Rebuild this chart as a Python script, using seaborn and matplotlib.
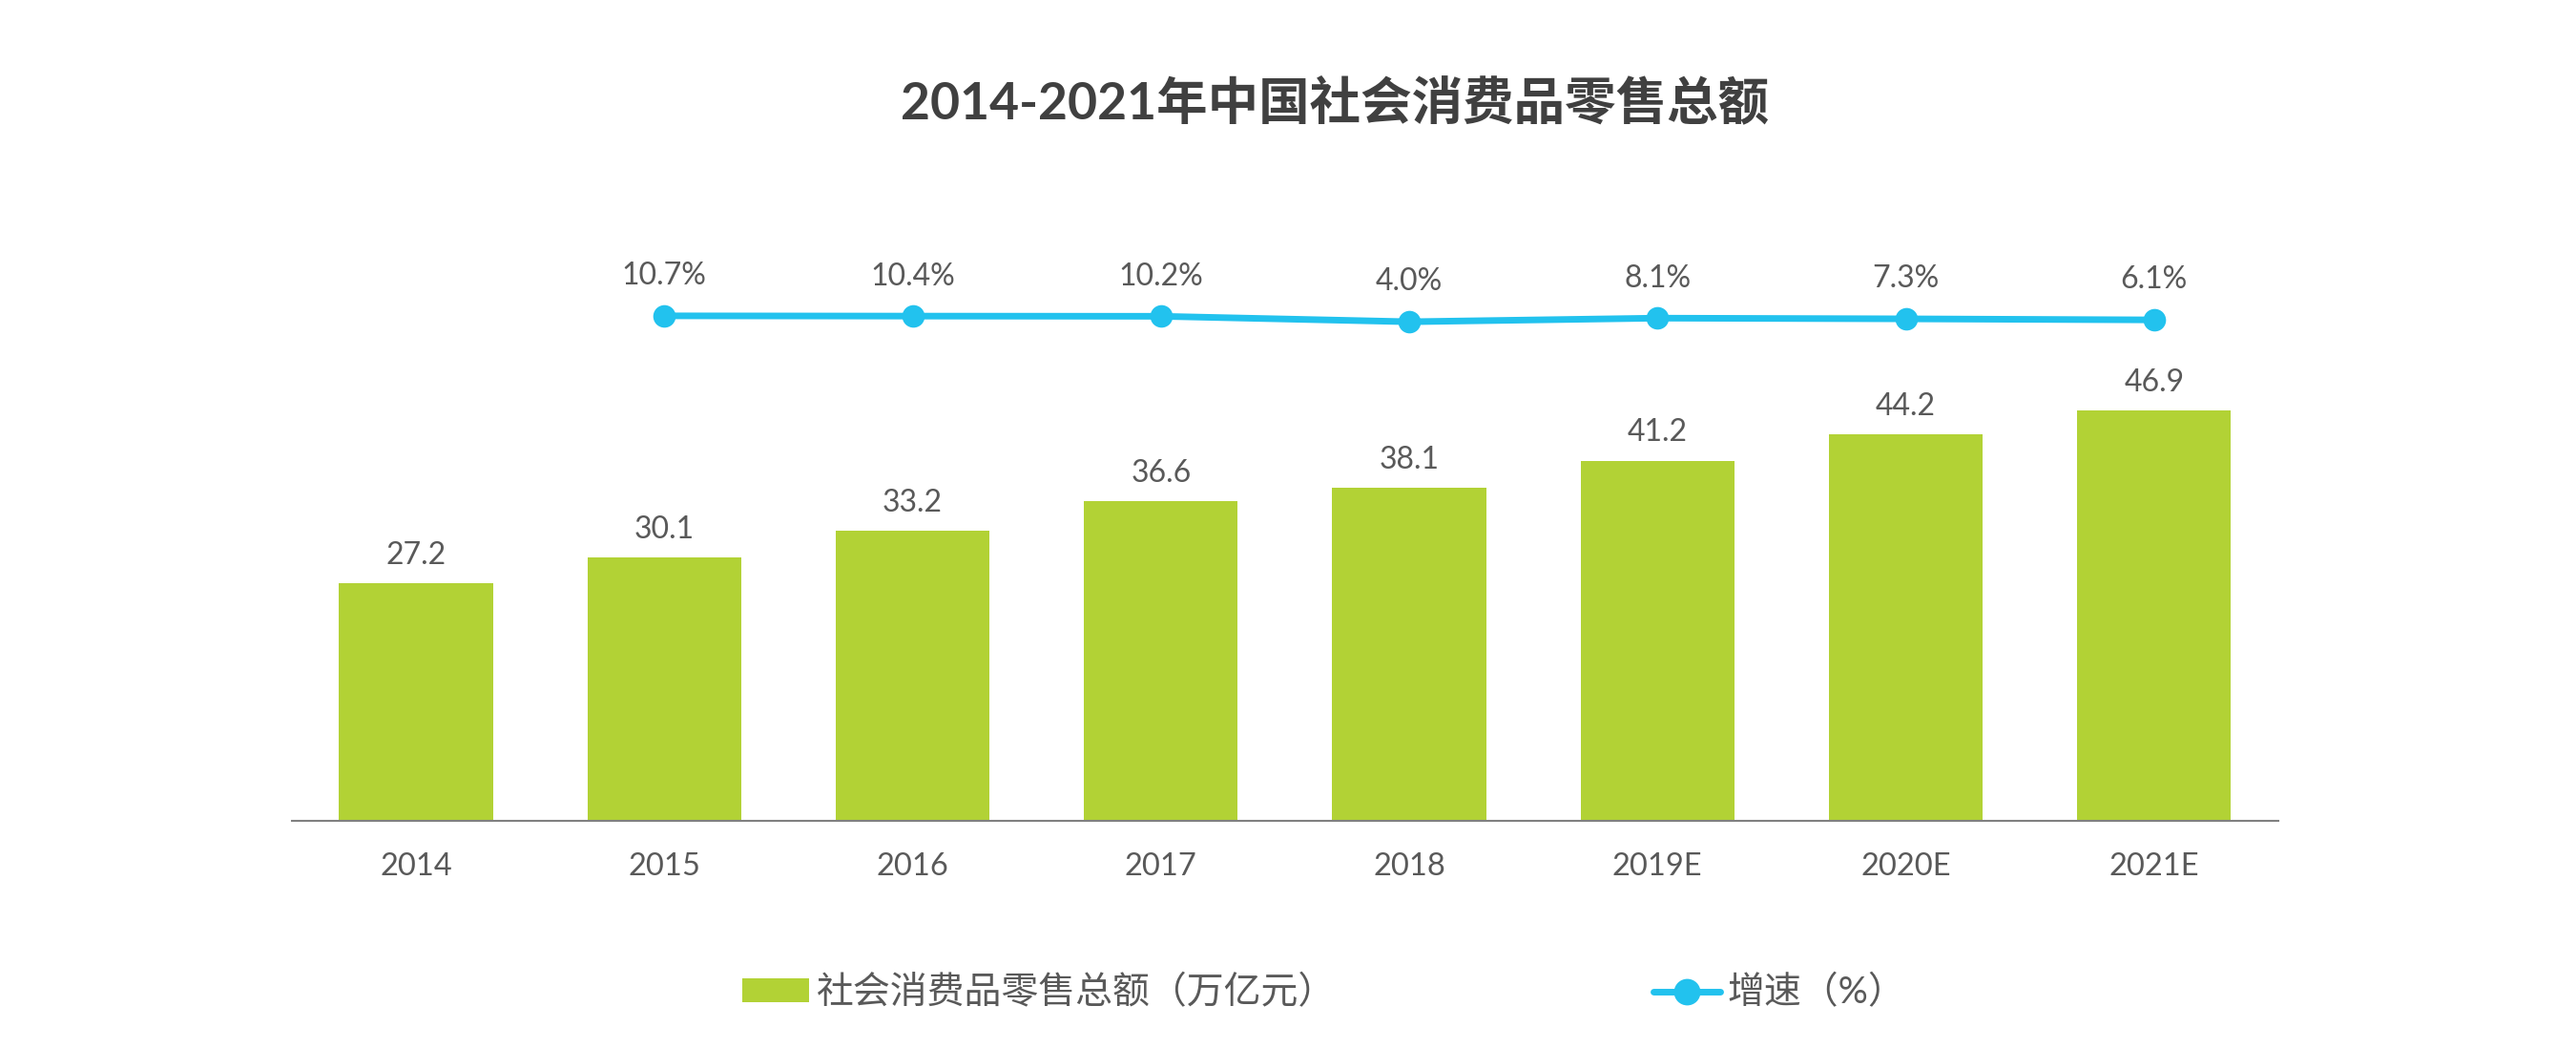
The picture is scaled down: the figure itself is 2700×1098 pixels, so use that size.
import numpy as np
import seaborn as sns
import matplotlib.pyplot as plt

# data
years = ["2014", "2015", "2016", "2017", "2018", "2019E", "2020E", "2021E"]
sales = [27.2, 30.1, 33.2, 36.6, 38.1, 41.2, 44.2, 46.9]
growth_years = years[1:]
growth = [10.7, 10.4, 10.2, 4.0, 8.1, 7.3, 6.1]

title = "2014-2021年中国社会消费品零售总额"
bar_name = "社会消费品零售总额（万亿元）"
line_name = "增速（%）"

green = "#B2D235"
blue = "#22C2EE"
txt = "#595959"

sns.set_theme(style="white")
plt.rcParams['font.family'] = ['Lato', 'Noto Sans CJK SC', 'DejaVu Sans']

fig = plt.figure(figsize=(27, 10.98), dpi=100)
ax = fig.add_axes([0.1133, 0.2168, 0.7711, 0.6557])

sns.barplot(x=years, y=sales, color=green, width=0.62, saturation=1, ax=ax,
            linewidth=0, label=bar_name)
ax.set_ylim(0, 78.6)
ax.set_xlim(-0.5, 7.5)
for i, v in enumerate(sales):
    ax.annotate(f"{v:.1f}", (i, v), xytext=(0, 21), textcoords="offset points",
                ha="center", va="center", fontsize=23, color=txt)

# growth line on twin axis
ax2 = ax.twinx()
sns.lineplot(x=growth_years, y=growth, ax=ax2, color=blue, linewidth=5,
             marker="o", markersize=17, markeredgewidth=0, label=line_name,
             legend=False)
ax2.set_ylim(-561, 217)
for x, v in zip(growth_years, growth):
    ax2.annotate(f"{v:.1f}%", (x, v), xytext=(0, 30), textcoords="offset points",
                 ha="center", va="center", fontsize=23, color=txt)

h1, l1 = ax.get_legend_handles_labels()
h2, l2 = ax2.get_legend_handles_labels()
if ax.get_legend() is not None:
    ax.get_legend().remove()

for a in (ax, ax2):
    for s in a.spines.values():
        s.set_visible(False)
    a.set_yticks([])
    a.set_ylabel("")
ax.spines["bottom"].set_visible(True)
ax.spines["bottom"].set_color("#808080")
ax.spines["bottom"].set_linewidth(1.5)
ax.tick_params(axis="x", length=0, pad=24, labelsize=23.5, labelcolor=txt)
ax.set_xlabel("")

fig.text(0.518, 1 - 107 / 1098, title, ha="center", va="center",
         fontsize=38.5, fontweight="bold", color="#404040")

leg = fig.legend(h1 + h2, l1 + l2, loc="center", bbox_to_anchor=(0.514, 0.0528),
                 ncol=2, frameon=False, fontsize=28, labelcolor=txt,
                 handlelength=1.8, handletextpad=0.2, columnspacing=8.55,
                 handleheight=0.6)
for ln in leg.get_lines():
    ln.set_markersize(20)

fig.savefig("out.png", dpi=100, facecolor="white")
